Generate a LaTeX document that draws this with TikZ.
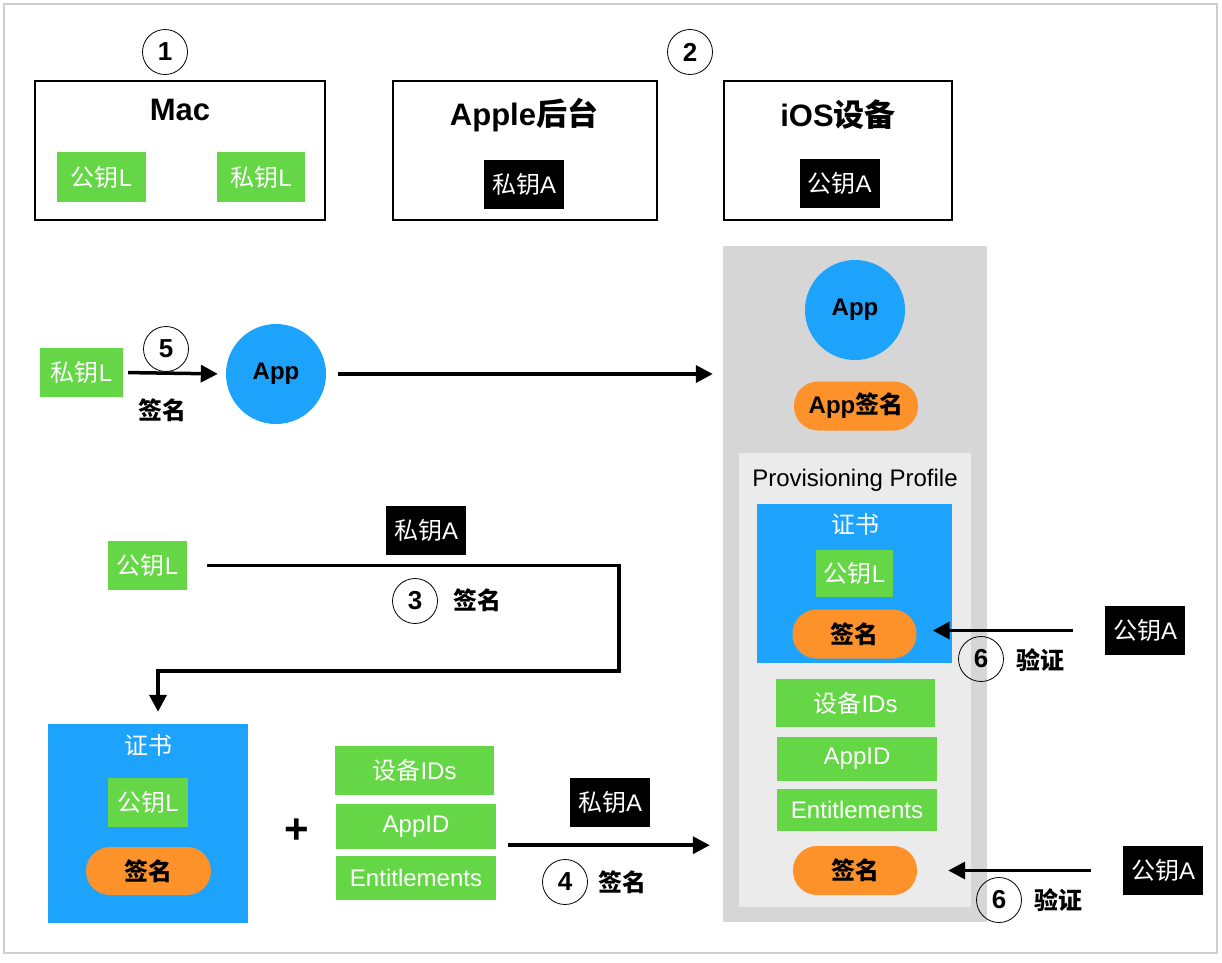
\documentclass[tikz,border=0pt]{standalone}
\usepackage{fontspec}
\setmainfont{Liberation Sans}
\newfontfamily\cjkfont{Noto Sans CJK SC}
\usetikzlibrary{arrows.meta,positioning}
\definecolor{keygreen}{HTML}{65D646}
\definecolor{certblue}{HTML}{1EA3FC}
\definecolor{signorange}{HTML}{FC9229}
\definecolor{devgray}{HTML}{D6D6D6}
\definecolor{profgray}{HTML}{EBEBEB}
\definecolor{framegray}{HTML}{CFCFCF}
\newcommand{\zh}[1]{{\cjkfont #1}}
\newcommand{\bodysize}{\fontsize{24}{28}\selectfont}
\newcommand{\titlesize}{\fontsize{31}{35}\selectfont}

\tikzset{
  hostbox/.style={draw, line width=1.2pt, minimum width=#1, minimum height=139},
  greenkey/.style={fill=keygreen, text=white, font=\bodysize, inner sep=0pt, minimum width=80, minimum height=49},
  blackkey/.style={fill=black, text=white, font=\bodysize, inner sep=0pt, minimum width=80, minimum height=49},
  signpill/.style={fill=signorange, rounded corners=24pt, font=\bodysize\bfseries, inner sep=0pt, minimum width=124, minimum height=49},
  appdot/.style={circle, fill=certblue, font=\bodysize\bfseries, inner sep=0pt, minimum size=100},
  stepnum/.style={circle, draw, line width=0.8pt, font=\fontsize{26}{26}\selectfont\bfseries, inner sep=0pt, minimum size=45},
  tag/.style={font=\bodysize\bfseries, inner sep=0pt},
  conn/.style={line width=3.5pt, -{Triangle[length=17pt,width=17pt]}}
}

\begin{document}
\begin{tikzpicture}[x=1pt,y=-1pt]
\useasboundingbox (0,0) rectangle (1222,962);
\draw[framegray, line width=2pt] (4,4) rectangle (1217,953);

% TOP ROW
\node[stepnum] (num1) at (165,52) {1};
\node[stepnum] (num2) at (690,52) {2};
\node[hostbox=290] (macbox) at (180,150.5) {};
\node[font=\titlesize\bfseries] (mactitle) at (180,110) {Mac};
\node[greenkey, minimum width=89, minimum height=50] (macpubL) at (101.5,177) {\zh{公钥}L};
\node[greenkey, minimum width=88, minimum height=50] (macprivL) at (261,177) {\zh{私钥}L};
\node[hostbox=264] (applebox) at (525,150.5) {};
\node[font=\titlesize\bfseries] (appletitle) at (524,115) {Apple\zh{后台}};
\node[blackkey] (appleprivA) at (524,184) {\zh{私钥}A};
\node[hostbox=228] (iosbox) at (838,150.5) {};
\node[font=\titlesize\bfseries] (iostitle) at (838,115) {iOS\zh{设备}};
\node[blackkey] (iospubA) at (839.5,183.5) {\zh{公钥}A};

% DEVICE SIDE
\node[fill=devgray, minimum width=264, minimum height=676] (iosarea) at (855,584) {};
\node[appdot] (iosapp) at (855,310) {App};
\node[signpill] (appsig) at (856,406) {App\zh{签名}};
\node[fill=profgray, minimum width=232, minimum height=454] (profarea) at (855,680) {};
\node[font=\bodysize] (proftitle) at (855,480) {Provisioning Profile};
\node[fill=certblue, minimum width=195, minimum height=159] (profcert) at (854.5,583.5) {};
\node[font=\bodysize, text=white] (profcerttitle) at (855,524) {\zh{证书}};
\node[greenkey, minimum width=77, minimum height=47] (profpubL) at (854.5,573.5) {\zh{公钥}L};
\node[signpill] (profcertsig) at (854.5,634) {\zh{签名}};
\node[greenkey, minimum width=159, minimum height=48] (profdev) at (855.5,703) {\zh{设备}IDs};
\node[greenkey, minimum width=160, minimum height=44] (profappid) at (857,759) {AppID};
\node[greenkey, minimum width=160, minimum height=42] (profent) at (857,810) {Entitlements};
\node[signpill] (profsig) at (855,870.5) {\zh{签名}};

% verification
\node[blackkey] (pubA6a) at (1145,630.5) {\zh{公钥}A};
\node[stepnum] (num6a) at (981,659) {6};
\node[tag] (verify6a) at (1040,660) {\zh{验证}};
\draw[conn, shorten <=32pt, shorten >=16pt] (pubA6a.west) -- (pubA6a.west -| profcertsig.east);
\node[blackkey] (pubA6b) at (1163,870.5) {\zh{公钥}A};
\node[stepnum] (num6b) at (999,900) {6};
\node[tag] (verify6b) at (1058,900) {\zh{验证}};
\draw[conn, shorten <=32pt, shorten >=31pt] (pubA6b.west) -- (pubA6b.west -| profsig.east);

% APP SIGNING
\node[greenkey, minimum width=83] (privL5) at (81.5,372.5) {\zh{私钥}L};
\node[stepnum] (num5) at (166,349) {5};
\node[tag] (sign5) at (162,410) {\zh{签名}};
\node[appdot] (app) at (276,374) {App};
\draw[conn, shorten <=5pt, shorten >=8pt] (privL5.east) -- (app.west);
\draw[conn, shorten <=12pt, shorten >=10pt] (app.east) -- (app.east -| iosarea.west);

% CERTIFICATE
\node[greenkey, minimum width=79] (pubL3) at (147.5,565.5) {\zh{公钥}L};
\node[blackkey] (privA3) at (426,530.5) {\zh{私钥}A};
\node[stepnum] (num3) at (415,601) {3};
\node[tag] (sign3) at (477,600) {\zh{签名}};
\node[fill=certblue, minimum width=200, minimum height=199] (cert) at (148,823.5) {};
\node[font=\bodysize, text=white] (certtitle) at (148,745) {\zh{证书}};
\node[greenkey] (certpubL) at (148,802.5) {\zh{公钥}L};
\node[signpill, minimum width=125, minimum height=48] (certsig) at (148.5,871) {\zh{签名}};
\coordinate (bend3) at (619,671);
\draw[conn, shorten <=20pt, shorten >=12pt] (pubL3.east) -| (bend3) -| ([xshift=10pt]cert.north);

% PROFILE SIGNING
\node[font=\fontsize{42}{42}\selectfont\bfseries] (plus) at (297,831) {+};
\node[greenkey, minimum width=159] (devL) at (414.5,770.5) {\zh{设备}IDs};
\node[greenkey, minimum width=160, minimum height=45] (appidL) at (416,826.5) {AppID};
\node[greenkey, minimum width=160, minimum height=44] (entL) at (416,878) {Entitlements};
\node[blackkey] (privA4) at (610,802.5) {\zh{私钥}A};
\node[stepnum] (num4) at (565,882) {4};
\node[tag] (sign4) at (622,882) {\zh{签名}};
\coordinate (out4) at ([yshift=4pt]appidL.south east);
\draw[conn, shorten <=12pt, shorten >=13pt] (out4) -- (out4 -| iosarea.west);

\end{tikzpicture}
\end{document}
